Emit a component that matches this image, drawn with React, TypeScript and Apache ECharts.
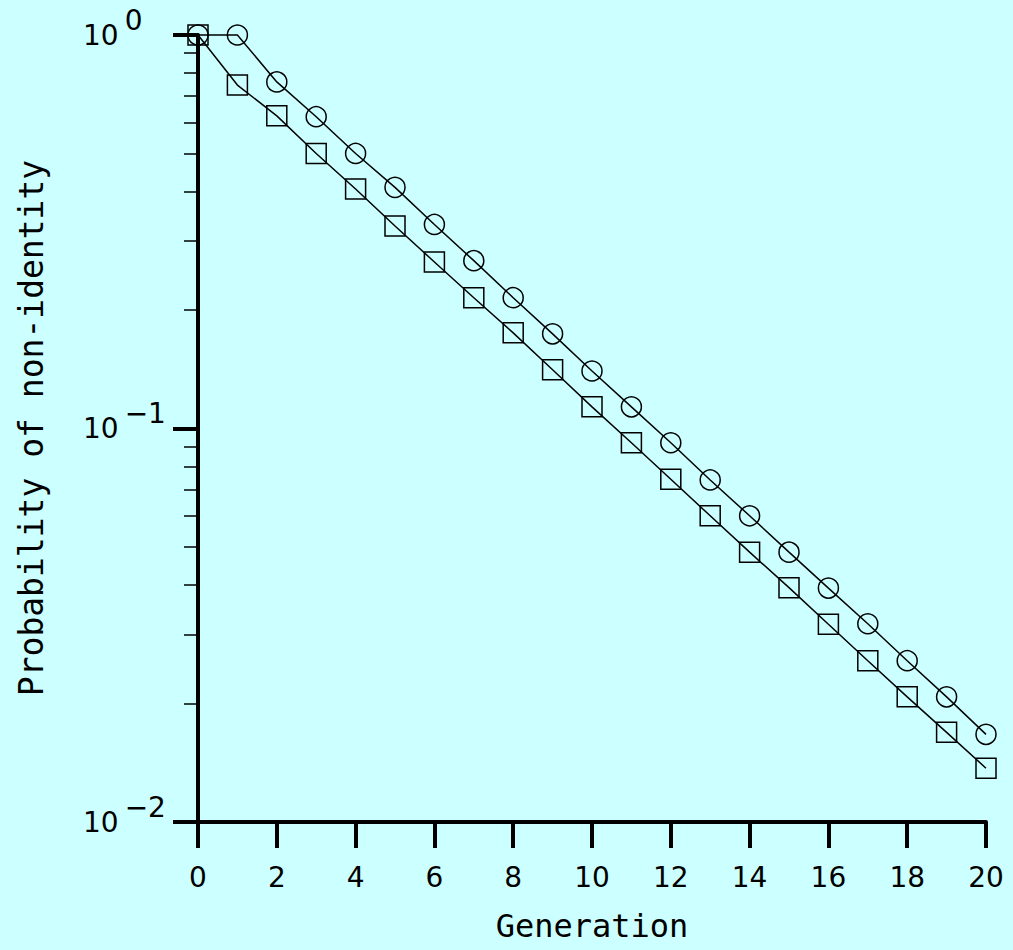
import React, { useEffect, useRef } from "react";
import * as echarts from "echarts";

const generations = [0, 1, 2, 3, 4, 5, 6, 7, 8, 9, 10, 11, 12, 13, 14, 15, 16, 17, 18, 19, 20];
const circleValues = [1, 1, 0.76, 0.62, 0.5, 0.41, 0.33, 0.267, 0.215, 0.174, 0.14, 0.1135, 0.092, 0.074, 0.06, 0.0485, 0.0393, 0.0319, 0.0257, 0.0208, 0.0167];
const squareValues = [1, 0.746, 0.623, 0.5, 0.406, 0.327, 0.265, 0.215, 0.175, 0.141, 0.1135, 0.092, 0.0743, 0.06, 0.0485, 0.0394, 0.0318, 0.0257, 0.0208, 0.0169, 0.0137];
const majorTicks = [0.01, 0.1, 1];
const majorLabels: Record<string, string> = { "0.01": "−2", "0.1": "−1", "1": "0" };
const minorTicks = [0.02, 0.03, 0.04, 0.05, 0.06, 0.07, 0.08, 0.09, 0.2, 0.3, 0.4, 0.5, 0.6, 0.7, 0.8, 0.9];
const xTitle = "Generation";
const yTitle = "Probability of non-identity";

export default function App() {
  const ref = useRef<HTMLDivElement>(null);
  useEffect(() => {
    document.body.style.margin = "0";
    const chart = echarts.init(ref.current!, null, { renderer: "svg" });
    const font = "DejaVu Sans";
    const titleFont = "DejaVu Sans Mono";
    chart.setOption({
      animation: false,
      backgroundColor: "#ccffff",
      grid: { left: 198, right: 27, top: 35, bottom: 128, containLabel: false, outerBoundsMode: "none" },
      xAxis: {
        type: "value",
        min: 0,
        max: 20,
        interval: 2,
        name: xTitle,
        nameLocation: "middle",
        nameGap: 88,
        nameTextStyle: { fontFamily: titleFont, fontSize: 32, color: "#000" },
        axisLine: { show: true, lineStyle: { color: "#000", width: 4 } },
        axisTick: { show: true, length: 26, lineStyle: { color: "#000", width: 4 } },
        axisLabel: { fontFamily: font, fontSize: 28, color: "#000", margin: 41 },
        splitLine: { show: false },
      },
      yAxis: [
        {
          type: "log",
          logBase: 10,
          min: 0.01,
          max: 1,
          axisLine: { show: true, lineStyle: { color: "#000", width: 4 } },
          axisTick: { show: true, length: 25, customValues: majorTicks, lineStyle: { color: "#000", width: 4 } },
          axisLabel: {
            customValues: majorTicks,
            align: "left",
            margin: 115,
            padding: [0, 0, 15, 0],
            formatter: (v: number) => `{b|10}{s|${majorLabels[String(v)] ?? ""}}`,
            rich: {
              b: { fontFamily: font, fontSize: 28, color: "#000", verticalAlign: "bottom" },
              s: { fontFamily: font, fontSize: 28, color: "#000", verticalAlign: "bottom", padding: [0, 0, 15, 6] },
            },
          },
          splitLine: { show: false },
        },
        {
          type: "log",
          logBase: 10,
          min: 0.01,
          max: 1,
          position: "left",
          offset: 0,
          axisLine: { show: false },
          axisTick: { show: true, length: 14, customValues: minorTicks, lineStyle: { color: "#000", width: 1.5 } },
          axisLabel: { show: false },
          splitLine: { show: false },
        },
      ],
      graphic: [
        {
          type: "text",
          x: 31,
          y: 428,
          rotation: Math.PI / 2,
          style: {
            text: yTitle,
            fontFamily: titleFont,
            fontSize: 33,
            fill: "#000",
            align: "center",
            verticalAlign: "middle",
          },
        },
      ],
      series: [
        {
          type: "line",
          data: generations.map((g, i) => [g, circleValues[i]]),
          symbol: "circle",
          symbolSize: 20,
          clip: false,
          lineStyle: { color: "#000", width: 1.5 },
          itemStyle: { color: "transparent", borderColor: "#000", borderWidth: 1.5 },
        },
        {
          type: "line",
          data: generations.map((g, i) => [g, squareValues[i]]),
          symbol: "rect",
          symbolSize: 20,
          clip: false,
          lineStyle: { color: "#000", width: 1.5 },
          itemStyle: { color: "transparent", borderColor: "#000", borderWidth: 1.5 },
        },
      ],
    });
    return () => chart.dispose();
  }, []);
  return <div ref={ref} style={{ width: 1013, height: 950 }} />;
}
